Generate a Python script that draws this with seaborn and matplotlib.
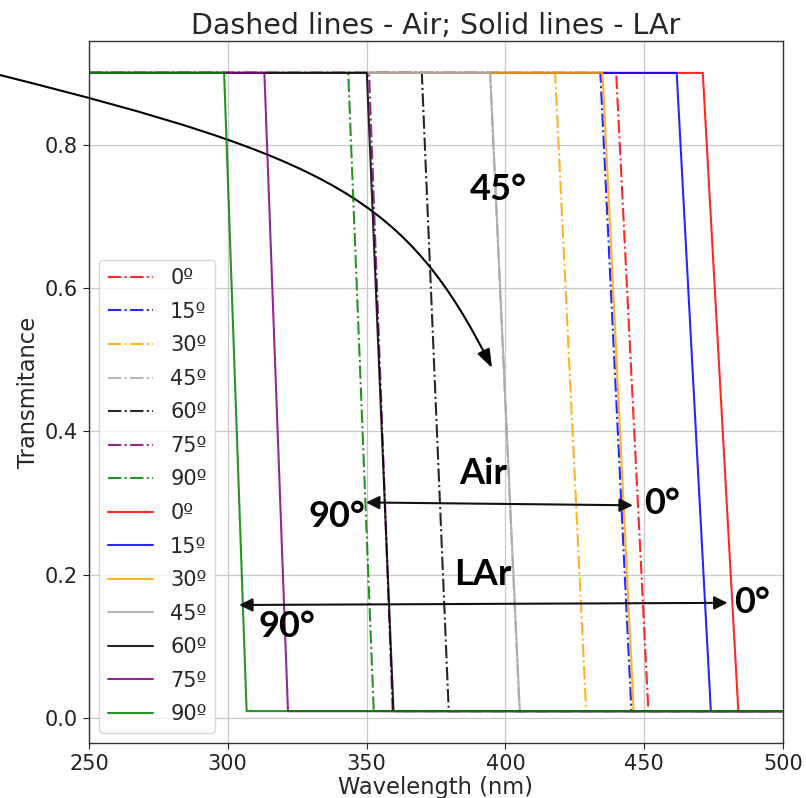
import numpy as np
import pandas as pd
import matplotlib
matplotlib.use("Agg")
import matplotlib.pyplot as plt
from matplotlib.patches import FancyArrowPatch
from matplotlib.path import Path
import seaborn as sns

# ---- data ----
angles = [0, 15, 30, 45, 60, 75, 90]
colors = ["red", "blue", "orange", "darkgray", "black", "purple", "green"]
air_start = [439.9, 434.2, 417.9, 394.5, 369.9, 350.9, 343.4]   # edge top (nm)
air_end = [451.5, 445.4, 429.1, 405.1, 379.6, 359.4, 352.6]     # edge bottom (nm)
lar_start = [471.1, 461.7, 435.0, 394.5, 350.1, 313.2, 298.7]
lar_end = [483.9, 474.0, 446.2, 405.2, 359.7, 321.7, 306.8]
wl_min, wl_max = 250, 500
t_high, t_low = 0.90, 0.01

# annotation data
curve_x = [218.0, 336.9, 364.6, 395.2]
curve_y = [0.897, 0.782, 0.725, 0.4885]
air_arrow = [(349.8, 0.301), (445.9, 0.297)]
lar_arrow = [(304.1, 0.158), (480.0, 0.161)]
labels_txt = [("45°", 397.4, 0.737), ("Air", 392.1, 0.342), ("90°", 339.2, 0.2815),
              ("0°", 456.5, 0.299), ("LAr", 391.8, 0.2007), ("90°", 321.2, 0.128),
              ("0°", 489.0, 0.1617)]

rows = []
for medium, starts, ends in [("Air", air_start, air_end), ("LAr", lar_start, lar_end)]:
    for a, s, e in zip(angles, starts, ends):
        for w, t in zip([wl_min, s, e, wl_max], [t_high, t_high, t_low, t_low]):
            rows.append(dict(medium=medium, angle=a, wavelength=w, T=t))
df = pd.DataFrame(rows)

sns.set_style("ticks")
plt.rcParams["font.family"] = ["DejaVu Sans"]

fig = plt.figure(figsize=(8.06, 7.98), dpi=100)
ax = fig.add_axes([0.1103, 0.0689, 0.8612, 0.8797])

for medium, ls in [("Air", "-."), ("LAr", "-")]:
    for a, c in zip(angles, colors):
        sub = df[(df.medium == medium) & (df.angle == a)]
        sns.lineplot(data=sub, x="wavelength", y="T", color=c, linestyle=ls,
                     linewidth=1.5, alpha=0.85, label=f"{a}º", ax=ax,
                     sort=False, estimator=None)

ax.set_xlim(wl_min, wl_max)
ax.set_ylim(-0.0345, 0.9445)
ax.set_xticks([250, 300, 350, 400, 450, 500])
ax.set_yticks([0.0, 0.2, 0.4, 0.6, 0.8])
ax.tick_params(labelsize=15, colors="#222222", length=4.5)
ax.grid(True, color="#c8c8c8", linewidth=0.9)
for sp in ax.spines.values():
    sp.set_color("#333333")
    sp.set_linewidth(1.0)
ax.set_xlabel("Wavelength (nm)", fontsize=16.3, labelpad=1)
ax.set_ylabel("Transmitance", fontsize=16.3, labelpad=3)
ax.set_title("Dashed lines - Air; Solid lines - LAr", fontsize=20.5, pad=5)
ax.legend(loc="lower left", fontsize=15, handlelength=2.2, labelspacing=0.65,
          handletextpad=0.8)

# curved arrow
path = Path(list(zip(curve_x, curve_y)), [Path.MOVETO, Path.CURVE4, Path.CURVE4, Path.CURVE4])
arr = FancyArrowPatch(path=path, arrowstyle="-|>,head_length=0.7,head_width=0.25",
                      mutation_scale=16, color="black", lw=1.5,
                      transform=ax.transData, clip_on=False)
ax.add_patch(arr)

for (p0, p1) in [air_arrow, lar_arrow]:
    ax.annotate("", xy=p1, xytext=p0,
                arrowprops=dict(arrowstyle="<|-|>", color="#111111", lw=1.5,
                                mutation_scale=20, shrinkA=0, shrinkB=0))

for txt, x, y in labels_txt:
    ax.text(x, y, txt, fontsize=26, fontweight="bold", family=["Lato", "DejaVu Sans"],
            ha="center", va="center", color="black")

fig.savefig("out.png", dpi=100)
